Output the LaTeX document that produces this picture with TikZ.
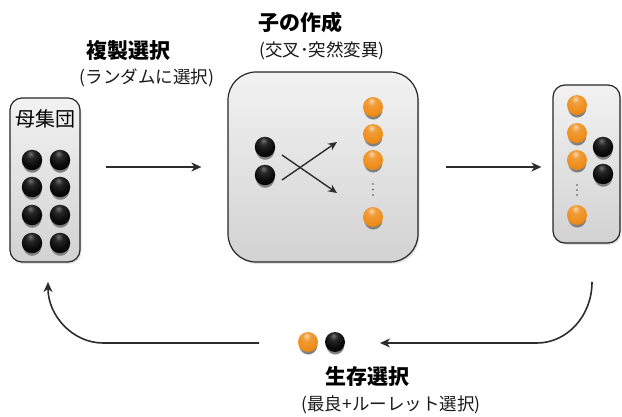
\documentclass[tikz,border=0pt]{standalone}
\usepackage{fontspec}
\newfontfamily\jp{Noto Sans CJK JP}
\usetikzlibrary{arrows.meta,shadows}
\definecolor{ballorange}{RGB}{238,140,24}
\definecolor{boxtop}{RGB}{242,242,242}
\definecolor{boxbot}{RGB}{210,210,210}
\definecolor{linegray}{RGB}{45,45,45}
\pgfdeclareradialshading{orangeshade}{\pgfpoint{-4bp}{16bp}}{%
  color(0bp)=(ballorange!35!white); color(10bp)=(ballorange!85!white);
  color(28bp)=(ballorange); color(48bp)=(ballorange!85!black);
  color(60bp)=(ballorange!65!black); color(80bp)=(ballorange!55!black)}
\pgfdeclareradialshading{blackshade}{\pgfpoint{-4bp}{16bp}}{%
  color(0bp)=(black!55); color(10bp)=(black!85); color(25bp)=(black!96);
  color(50bp)=(black); color(80bp)=(black)}
\tikzset{
  panel/.style={draw=black!85, line width=1.2pt, top color=boxtop, bottom color=boxbot,
    drop shadow={opacity=0.22, shadow xshift=1.5pt, shadow yshift=-2pt}, inner sep=0pt},
  blackball/.style={circle, inner sep=0pt, minimum size=20.5pt, shading=blackshade,
    circular drop shadow={shadow scale=0.95, shadow yshift=-3.5pt, shadow xshift=0pt}},
  orangeball/.style={circle, inner sep=0pt, minimum size=20pt, shading=orangeshade,
    circular drop shadow={shadow scale=0.95, shadow yshift=-3.5pt, shadow xshift=0pt}},
  vdot/.style={circle, fill=black!70, inner sep=0pt, minimum size=1.8pt},
  arr/.style={draw=linegray, line width=1.6pt, -{Stealth[length=10pt,width=9pt,inset=3pt]}},
  carr/.style={draw=linegray, line width=1.4pt, -{Stealth[length=9pt,width=8pt,inset=3pt]}},
  title/.style={font=\jp\bfseries\fontsize{21pt}{22pt}\selectfont, text=black, inner sep=0pt},
  sub/.style={font=\jp\fontsize{17.5pt}{19pt}\selectfont, text=black!90, inner sep=0pt},
}
\begin{document}
\begin{tikzpicture}[x=1pt,y=-1pt]
\useasboundingbox (0,0) rectangle (622,417);
% panels
\node[panel, rounded corners=12pt, minimum width=70pt, minimum height=164pt] (L) at (45,180) {};
\node[panel, rounded corners=28pt, minimum width=190pt, minimum height=190pt] (M) at (323,167) {};
\node[panel, rounded corners=12pt, minimum width=67pt, minimum height=158pt] (R) at (586.5,164) {};
% left panel content
\node[font=\jp\fontsize{20pt}{21pt}\selectfont, inner sep=0pt] (poplabel) at (46,119) {母集団};
\foreach \r/\yy in {1/160,2/187,3/215,4/243}{
  \node[blackball] (la\r) at (32,\yy) {};
  \node[blackball] (lb\r) at (60,\yy) {};
}
% middle panel content
\node[blackball] (mb1) at (265,147) {};
\node[blackball] (mb2) at (265,175) {};
\foreach \i/\yy in {1/107,2/134,3/160,4/217}{
  \node[orangeball] (mo\i) at (373,\yy) {};
}
\foreach \i/\yy in {1/184,2/189.5,3/195}{
  \node[vdot] (md\i) at (373,\yy) {};
}
\coordinate (xa) at (282,155);
\coordinate (xb) at (337,193);
\coordinate (xc) at (282,180);
\coordinate (xd) at (337,142);
\draw[carr] (xa) -- (xb);
\draw[carr] (xc) -- (xd);
% right panel content
\foreach \i/\yy in {1/105,2/133,3/160,4/215}{
  \node[orangeball] (ro\i) at (577,\yy) {};
}
\foreach \i/\yy in {1/185,2/190,3/195}{
  \node[vdot] (rd\i) at (577,\yy) {};
}
\node[blackball] (rb1) at (603,147) {};
\node[blackball] (rb2) at (603,174) {};
% survivors
\node[orangeball, minimum width=18.5pt, minimum height=20pt] (so) at (308,342) {};
\node[blackball, minimum width=18.5pt, minimum height=20pt] (sb) at (335,342) {};
% horizontal arrows
\draw[arr] ([xshift=25pt]L.east |- M.west) -- ([xshift=-26pt]M.west);
\draw[arr] ([xshift=27pt]M.east) -- ([xshift=-11pt]M.east -| R.west);
% bottom arrows
\coordinate (rstart) at (592,282);
\coordinate (rend) at (380,343);
\coordinate (lstart) at (259,343);
\coordinate (lend) at (48,282);
\draw[arr] (rstart) .. controls (592,316) and (567,343) .. (537,343) -- (rend);
\draw[arr] (lstart) -- (103,343) .. controls (73,343) and (48,316) .. (lend);
% labels
\node[title] (t1) at (128,51) {複製選択};
\node[sub] (s1) at (147,78) {(ランダムに選択)};
\node[title] (t2) at (300,23) {子の作成};
\node[sub] (s2) at (322,51) {(交叉･突然変異)};
\node[title] (t3) at (367,377) {生存選択};
\node[sub] (s3) at (391,405) {(最良+ルーレット選択)};
\end{tikzpicture}
\end{document}
